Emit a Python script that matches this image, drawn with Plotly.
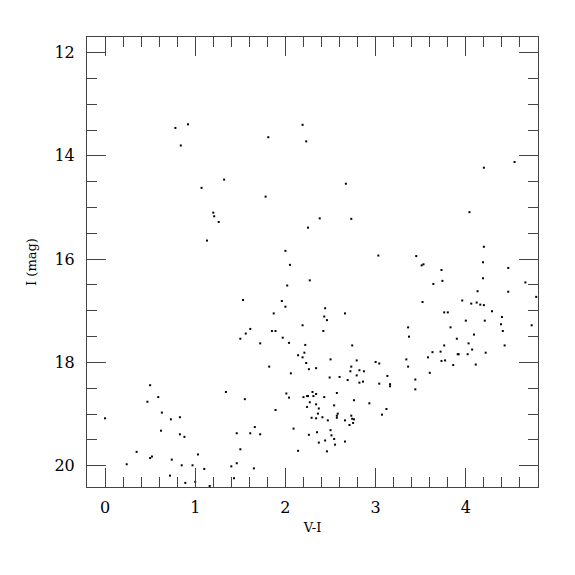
import plotly.graph_objects as go

vi = [0.78, 0.92, 0.84, 2.19, 1.81, 2.23, 1.32, 1.07, 1.78, 1.20, 1.21, 1.26, 1.13, 2.38, 2.25,
      2.00, 2.05, 4.20, 4.54, 2.67, 4.04, 2.73, 3.03, 3.45, 3.51, 3.53, 3.73, 4.20, 4.19, 4.47,
      4.19, 2.27, 2.02, 1.53, 1.96, 2.00, 1.87, 1.85, 1.89, 1.61, 1.56, 1.50, 1.72, 1.97, 2.04,
      2.19, 2.22, 2.14, 2.19, 2.21, 2.23, 2.26, 2.34, 2.06, 1.82, 1.34, 0.50, 0.59, 0.47, 1.55,
      2.01, 2.04, 2.20, 2.24, 2.25, 2.30, 2.31, 2.34, 2.27, 2.24, 2.34, 2.37, 2.36, 2.29, 2.34,
      1.89, 0.00, 0.63, 0.83, 0.73, 0.62, 0.83, 0.88, 1.46, 1.61, 1.66, 1.72, 2.09, 2.26, 2.35,
      2.37, 0.35, 1.50, 2.14, 0.24, 0.50, 0.52, 0.74, 0.85, 0.97, 1.03, 1.10, 1.40, 1.46, 1.65,
      1.43, 0.72, 0.89, 1.00, 1.16,
      3.64, 3.74, 4.13, 4.47, 4.66, 4.78, 3.52, 3.96, 4.06, 4.12, 4.16, 4.20, 4.29, 3.76, 3.80,
      4.00, 4.21, 4.39, 4.40, 4.41, 4.43, 4.73, 2.44, 2.43, 2.46, 2.42, 2.66, 3.36, 3.37, 3.83,
      3.90, 4.03, 4.09, 4.07, 4.22, 4.11, 4.02, 3.91, 3.92, 3.76, 3.72, 3.77, 3.73, 3.86, 3.63,
      3.58, 3.60, 3.44, 3.44, 3.34, 3.36, 2.50, 2.74, 2.79, 2.73, 2.72, 2.82, 2.87, 2.79, 2.82,
      2.86, 2.69, 2.60, 2.49, 3.00, 3.04, 3.04, 3.13, 3.16, 3.16, 3.07, 3.12, 2.93, 2.76, 2.57,
      2.54, 2.57, 2.58, 2.57, 2.47, 2.41, 2.43, 2.50, 2.51, 2.54, 2.55, 2.44, 2.46, 2.66, 2.66,
      2.71, 2.73, 2.74, 2.76, 2.75]

imag = [13.46, 13.39, 13.80, 13.40, 13.64, 13.72, 14.46, 14.62, 14.79, 15.10, 15.17, 15.28, 15.64, 15.21, 15.39,
        15.84, 16.11, 14.23, 14.12, 14.54, 15.09, 15.22, 15.93, 15.94, 16.12, 16.10, 16.21, 15.76, 16.06, 16.17,
        16.37, 16.41, 16.51, 16.79, 16.81, 16.92, 17.05, 17.39, 17.39, 17.35, 17.44, 17.54, 17.63, 17.52, 17.62,
        17.28, 17.66, 17.86, 17.90, 17.81, 18.01, 18.13, 18.11, 18.21, 18.08, 18.57, 18.44, 18.67, 18.76, 18.71,
        18.60, 18.68, 18.67, 18.65, 18.65, 18.57, 18.65, 18.61, 18.77, 18.86, 18.81, 18.89, 18.99, 19.07, 19.08,
        18.92, 19.08, 18.97, 19.06, 19.10, 19.32, 19.39, 19.44, 19.37, 19.37, 19.25, 19.39, 19.28, 19.40, 19.35,
        19.55, 19.73, 19.68, 19.71, 19.97, 19.85, 19.82, 19.88, 19.99, 19.99, 19.78, 20.06, 20.01, 19.95, 20.05,
        20.24, 20.19, 20.33, 20.31, 20.39,
        16.48, 16.42, 16.62, 16.63, 16.45, 16.73, 16.83, 16.80, 16.86, 16.84, 16.88, 16.89, 17.01, 17.03, 17.03,
        17.19, 17.19, 17.26, 17.12, 17.39, 17.67, 17.28, 16.95, 17.11, 17.18, 17.39, 17.05, 17.32, 17.50, 17.32,
        17.54, 17.63, 17.46, 17.75, 17.81, 18.04, 17.84, 17.84, 17.84, 17.67, 17.79, 17.96, 17.97, 18.05, 17.80,
        17.90, 18.20, 18.33, 18.52, 17.94, 18.08, 17.94, 17.67, 17.96, 18.08, 18.17, 18.15, 18.17, 18.25, 18.39,
        18.37, 18.34, 18.28, 18.29, 17.99, 18.02, 18.41, 18.26, 18.42, 18.46, 19.01, 18.90, 18.79, 18.73, 18.59,
        18.83, 19.03, 18.99, 19.07, 19.12, 19.06, 18.67, 19.31, 19.41, 19.48, 19.59, 19.51, 19.72, 19.53, 19.12,
        19.21, 19.03, 19.09, 19.10, 19.17]

x_ticks = [0, 1, 2, 3, 4]
y_ticks = [12, 14, 16, 18, 20]

FONT = "DejaVu Serif"
AX = "#444444"

fig = go.Figure(go.Scatter(
    x=vi, y=imag, mode="markers",
    marker=dict(symbol="square", size=2, color="black", line=dict(width=0)),
    showlegend=False,
))

common = dict(
    showline=True, linecolor=AX, linewidth=1, mirror="allticks",
    ticks="inside", ticklen=19, tickwidth=1, tickcolor=AX,
    showgrid=False, zeroline=False,
    tickfont=dict(family=FONT, size=16, color="black"),
)

fig.update_xaxes(
    range=[-0.2, 4.8], tickvals=x_ticks, ticktext=[str(v) for v in x_ticks],
    minor=dict(dtick=0.2, tick0=0, ticks="inside", ticklen=10, tickcolor=AX, showgrid=False),
    title=dict(text="V-I", font=dict(family=FONT, size=13, color="black"), standoff=6),
    ticklabelstandoff=6,
    **common,
)
fig.update_yaxes(
    range=[20.41, 11.7], tickvals=y_ticks, ticktext=[str(v) for v in y_ticks],
    minor=dict(dtick=0.5, tick0=0, ticks="inside", ticklen=10, tickcolor=AX, showgrid=False),
    title=dict(text="I (mag)", font=dict(family=FONT, size=13, color="black"), standoff=14),
    ticklabelstandoff=8,
    **common,
)

fig.update_layout(
    width=575, height=575,
    margin=dict(l=79, r=45, t=29, b=96),
    paper_bgcolor="white", plot_bgcolor="white",
)

fig.write_html("out.html")
